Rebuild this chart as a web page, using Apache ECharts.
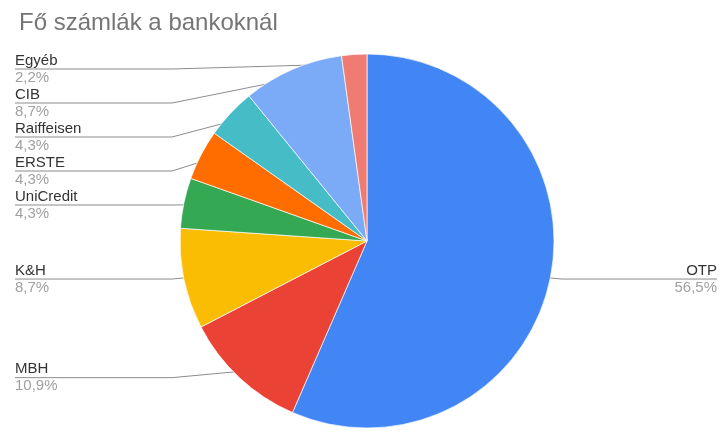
<!DOCTYPE html>
<html>
<head>
<meta charset="utf-8">
<script src="https://cdn.jsdelivr.net/npm/echarts@6/dist/echarts.min.js"></script>
<style>
  html, body { margin: 0; padding: 0; background: #fff; }
  #chart { width: 720px; height: 432px; }
</style>
</head>
<body>
<div id="chart"></div>
<script>
const categories = ['OTP', 'MBH', 'K&H', 'UniCredit', 'ERSTE', 'Raiffeisen', 'CIB', 'Egyéb'];
const values = [26, 5, 4, 2, 2, 2, 4, 1];
const colors = ['#4285f4', '#ea4335', '#fbbc04', '#34a853', '#ff6d01', '#46bdc6', '#7baaf7', '#f07b72'];
const titleText = 'Fő számlák a bankoknál';

const total = values.reduce((a, b) => a + b, 0);
const FONT = '"Liberation Sans", Arial, sans-serif';
const CX = 367, CY = 241, R = 187, TOP = 52;
const LABEL_MIN_Y = 69, LABEL_GAP = 34;

function pctText(v) {
  return (v / total * 100).toFixed(1).replace('.', ',') + '%';
}

// Label vertical placement: ideal y at slice mid-angle, pushed down to avoid overlap.
const labelY = [];
(function () {
  let acc = 0;
  const left = [], right = [];
  values.forEach(function (v, i) {
    const a = (acc + v / 2) / total * 2 * Math.PI;
    acc += v;
    const y = CY - Math.cos(a) * R;
    (Math.sin(a) < 0 ? left : right).push({ i: i, y: y });
  });
  [left, right].forEach(function (list) {
    list.sort(function (a, b) { return a.y - b.y; });
    let prev = LABEL_MIN_Y - LABEL_GAP;
    list.forEach(function (it) {
      const y = Math.max(it.y, prev + LABEL_GAP);
      labelY[it.i] = y;
      prev = y;
    });
  });
})();

const chart = echarts.init(document.getElementById('chart'), null, { renderer: 'canvas' });

const option = {
  animation: false,
  title: {
    text: titleText,
    left: 14,
    top: 6,
    textStyle: { fontFamily: FONT, fontSize: 24, fontWeight: 'normal', color: '#757575' }
  },
  series: [{
    type: 'pie',
    left: 0,
    top: TOP,
    right: -12,
    bottom: 0,
    center: [CX, CY - TOP],
    radius: R,
    startAngle: 90,
    clockwise: true,
    avoidLabelOverlap: true,
    color: colors,
    itemStyle: { borderColor: '#ffffff', borderWidth: 0.7 },
    label: {
      show: true,
      position: 'outside',
      alignTo: 'edge',
      edgeDistance: 15,
      fontFamily: FONT,
      formatter: function (p) {
        return '{n|' + p.name + '}\n{p|' + pctText(p.value) + '}';
      },
      rich: {
        n: { fontFamily: FONT, fontSize: 15, color: '#333333', lineHeight: 17 },
        p: { fontFamily: FONT, fontSize: 15, color: '#a0a0a0', lineHeight: 17 }
      }
    },
    labelLine: {
      show: true,
      length: 1,
      length2: 0,
      smooth: false,
      lineStyle: { color: '#8c8c8c', width: 1 }
    },
    labelLayout: function (p) {
      const pts = p.labelLinePoints;
      if (!pts || pts.length < 3) return {};
      const isLeft = pts[2][0] < CX;
      const a = pts[0];
      const p0 = [CX + (a[0] - CX) * 0.95, CY + (a[1] - CY) * 0.95];
      const y = labelY[p.dataIndex];
      const elbowX = isLeft ? Math.min(CX - R - 8, p0[0]) : Math.max(CX + R + 8, p0[0]);
      const endX = isLeft ? p.labelRect.x : p.labelRect.x + p.labelRect.width;
      return { y: y, labelLinePoints: [p0, [elbowX, y], [endX, y]] };
    },
    emphasis: { disabled: true },
    data: categories.map((n, i) => ({ name: n, value: values[i] }))
  }]
};

chart.setOption(option);
</script>
</body>
</html>
